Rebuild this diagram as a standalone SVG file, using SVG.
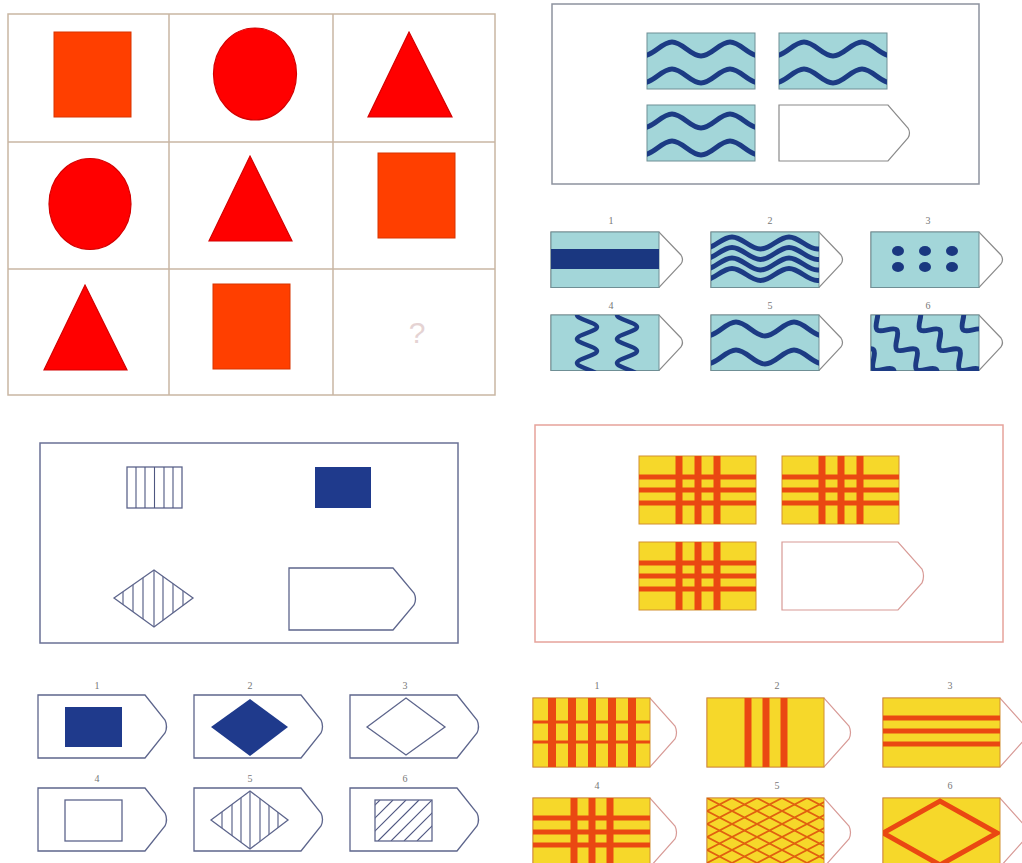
<svg xmlns="http://www.w3.org/2000/svg" width="1022" height="863" viewBox="0 0 1022 863">
<style>
.grid{fill:none;stroke:#c9b6a3;stroke-width:1.5}
.sq{fill:#ff3f00;stroke:#d83400;stroke-width:1}
.rd{fill:#ff0000;stroke:#d40000;stroke-width:1.2}
.cy{fill:#a3d6d9;stroke:#6f8f95;stroke-width:1}
.wv{fill:none;stroke:#1c3b84;stroke-width:5;stroke-linecap:round}
.pt2{fill:#fff;stroke:#8a8a8a;stroke-width:1.2}
.f2{fill:none;stroke:#8d929e;stroke-width:1.5}
.lb{font-family:"Liberation Serif",serif;font-size:10px;fill:#777;text-anchor:middle}
.f3{fill:none;stroke:#6a7095;stroke-width:1.5}
.o3{fill:#fff;stroke:#5d658c;stroke-width:1.3}
.o3n{fill:none;stroke:#5d658c;stroke-width:1.3}
.ln3{stroke:#4e5680;stroke-width:1.1}
.nv{fill:#1f3a8c}
.f4{fill:none;stroke:#e6a39b;stroke-width:1.5}
.o4{fill:#fff;stroke:#d89a96;stroke-width:1.2}
.yl{fill:#f6d82a;stroke:#d29030;stroke-width:1}
.rs{fill:#ea4812}
</style>
<defs>
<clipPath id="ct2"><rect x="0" y="0" width="108" height="56"/></clipPath>
<clipPath id="ct4"><rect x="0" y="0" width="117" height="69"/></clipPath>
<clipPath id="cd3"><polygon points="114,598 154,570 193,598 154,627"/></clipPath>
<clipPath id="cd5"><polygon points="211,820 250,791 288,820 250,849"/></clipPath>
<clipPath id="ch6"><rect x="375" y="800" width="57" height="41"/></clipPath>
<path id="wq" d="M-33,-7 C-22.6,-7 -14.4,7 -4,7 S14.6,-7 25,-7 S43.6,7 54,7 S72.6,-7 83,-7 S101.6,7 112,7 S130.6,-7 141,-7"/>
<path id="w2" d="M-36,-6 C-25.7,-6 -17.8,6 -7.5,6 S10.7,-6 21,-6 S39.2,6 49.5,6 S67.7,-6 78,-6 S96.2,6 106.5,6 S124.7,-6 135,-6"/>
<path id="zz" d="M10,-12 C10,-7.7 -10,-4.3 -10,0 S10,7.7 10,12 S-10,19.7 -10,24 S10,31.7 10,36 S-10,43.7 -10,48 S10,55.7 10,60 S-10,67.7 -10,72"/>
<path id="sg" d="M-84,-7 C-79,-7 -75,7 -70,7 S-61,-7 -56,-7 S-47,7 -42,7 S-33,-7 -28,-7 S-19,7 -14,7 S-5,-7 0,-7 S9,7 14,7 S23,-7 28,-7 S37,7 42,7 S51,-7 56,-7 S65,7 70,7 S79,-7 84,-7 S93,7 98,7 S107,-7 112,-7 S121,7 126,7 S135,-7 140,-7 S149,7 154,7 S163,-7 168,-7"/>
<path id="p2" d="M0,0 H108 L130,23 Q133,27.5 130,32 L108,55.5 H0 Z"/>
<path id="p3" d="M0,0 H107 L127,25 Q130,31.5 127,38 L107,63 H0 Z"/>
<path id="p3q" d="M0,0 H104 L125,25 Q128,31 125,37 L104,62 H0 Z"/>
<path id="p4" d="M0,0 H117 L142,28 Q145,34.5 142,41 L117,69 H0 Z"/>
<g id="qtile2">
<rect class="cy" x="0" y="0" width="108" height="56"/>
<g clip-path="url(#ct2)"><use href="#wq" class="wv" y="16"/><use href="#wq" class="wv" y="43"/></g>
</g>
<g id="plaid">
<rect class="yl" x="0" y="0" width="117" height="68"/>
<rect class="rs" x="0" y="18.5" width="117" height="5"/>
<rect class="rs" x="0" y="31.5" width="117" height="5"/>
<rect class="rs" x="0" y="44.5" width="117" height="5"/>
<rect class="rs" x="36.5" y="0" width="7" height="68"/>
<rect class="rs" x="55.5" y="0" width="7" height="68"/>
<rect class="rs" x="74.5" y="0" width="7" height="68"/>
</g>
<pattern id="lat" patternUnits="userSpaceOnUse" x="707" y="798" width="25" height="13">
<path d="M0,0 L25,13 M0,13 L25,0" stroke="#e0600f" stroke-width="1.8" fill="none"/>
</pattern>
</defs>

<g id="panel1">
<rect class="grid" x="8" y="14" width="487" height="381"/>
<line class="grid" x1="169" y1="14" x2="169" y2="395"/>
<line class="grid" x1="333" y1="14" x2="333" y2="395"/>
<line class="grid" x1="8" y1="142" x2="495" y2="142"/>
<line class="grid" x1="8" y1="269" x2="495" y2="269"/>
<rect class="sq" x="54" y="32" width="77" height="85"/>
<ellipse class="rd" cx="255" cy="74" rx="41.5" ry="46"/>
<polygon class="rd" points="409,32 452,117 368,117"/>
<ellipse class="rd" cx="90" cy="204" rx="41" ry="45.5"/>
<polygon class="rd" points="250,156 292,241 209,241"/>
<rect class="sq" x="378" y="153" width="77" height="85"/>
<polygon class="rd" points="85,285 127,370 44,370"/>
<rect class="sq" x="213" y="284" width="77" height="85"/>
<text x="417" y="343" font-family="Liberation Sans, sans-serif" font-size="30" fill="#e5d3d3" text-anchor="middle">?</text>
</g>

<g id="panel2">
<rect class="f2" x="552" y="4" width="427" height="180"/>
<use href="#qtile2" x="647" y="33"/>
<use href="#qtile2" x="779" y="33"/>
<use href="#qtile2" x="647" y="105"/>
<path class="pt2" d="M779,105 H888 L908,128 Q911,133 908,138 L888,161 H779 Z"/>
</g>

<g id="panel2-options">
<text class="lb" x="611" y="224">1</text>
<text class="lb" x="770" y="224">2</text>
<text class="lb" x="928" y="224">3</text>
<text class="lb" x="611" y="309">4</text>
<text class="lb" x="770" y="309">5</text>
<text class="lb" x="928" y="309">6</text>
<g id="o2-1" transform="translate(551,232)">
<use href="#p2" class="pt2"/>
<rect class="cy" width="108" height="55.5"/>
<rect x="0" y="17" width="108" height="20" fill="#1a3780"/>
</g>
<g id="o2-2" transform="translate(711,232)">
<use href="#p2" class="pt2"/>
<rect class="cy" width="108" height="55.5"/>
<g clip-path="url(#ct2)">
<use href="#w2" class="wv" y="11"/>
<use href="#w2" class="wv" y="21.5"/>
<use href="#w2" class="wv" y="32"/>
<use href="#w2" class="wv" y="42.5"/>
</g>
</g>
<g id="o2-3" transform="translate(871,232)">
<use href="#p2" class="pt2"/>
<rect class="cy" width="108" height="55.5"/>
<g fill="#1a3780">
<ellipse cx="27" cy="19" rx="6" ry="5"/><ellipse cx="54" cy="19" rx="6" ry="5"/><ellipse cx="81" cy="19" rx="6" ry="5"/>
<ellipse cx="27" cy="35" rx="6" ry="5"/><ellipse cx="54" cy="35" rx="6" ry="5"/><ellipse cx="81" cy="35" rx="6" ry="5"/>
</g>
</g>
<g id="o2-4" transform="translate(551,315)">
<use href="#p2" class="pt2"/>
<rect class="cy" width="108" height="55.5"/>
<g clip-path="url(#ct2)">
<use href="#zz" class="wv" style="stroke-width:4.5" x="36"/>
<use href="#zz" class="wv" style="stroke-width:4.5" x="76"/>
</g>
</g>
<g id="o2-5" transform="translate(711,315)">
<use href="#p2" class="pt2"/>
<rect class="cy" width="108" height="55.5"/>
<g clip-path="url(#ct2)">
<use href="#wq" class="wv" y="14"/>
<use href="#wq" class="wv" y="42"/>
</g>
</g>
<g id="o2-6" transform="translate(871,315)">
<use href="#p2" class="pt2"/>
<rect class="cy" width="108" height="55.5"/>
<g clip-path="url(#ct2)">
<use href="#sg" class="wv" transform="translate(-42,0) rotate(45)"/>
<use href="#sg" class="wv" transform="translate(1,0) rotate(45)"/>
<use href="#sg" class="wv" transform="translate(44,0) rotate(45)"/>
<use href="#sg" class="wv" transform="translate(87,0) rotate(45)"/>
</g>
</g>
</g>

<g id="panel3">
<rect class="f3" x="40" y="443" width="418" height="200"/>
<g id="q3-stripes">
<rect class="o3" x="127" y="467" width="55" height="41"/>
<g class="ln3">
<line x1="136" y1="467" x2="136" y2="508"/><line x1="145" y1="467" x2="145" y2="508"/>
<line x1="154.5" y1="467" x2="154.5" y2="508"/><line x1="164" y1="467" x2="164" y2="508"/>
<line x1="173" y1="467" x2="173" y2="508"/>
</g>
</g>
<rect id="q3-solid" class="nv" x="315" y="467" width="56" height="41"/>
<g id="q3-diamond">
<g class="ln3" clip-path="url(#cd3)">
<line x1="123" y1="560" x2="123" y2="640"/><line x1="133" y1="560" x2="133" y2="640"/>
<line x1="143" y1="560" x2="143" y2="640"/><line x1="154" y1="560" x2="154" y2="640"/>
<line x1="163" y1="560" x2="163" y2="640"/><line x1="173" y1="560" x2="173" y2="640"/>
<line x1="183" y1="560" x2="183" y2="640"/>
</g>
<polygon class="o3n" points="114,598 154,570 193,598 154,627"/>
</g>
<use id="q3-blank" href="#p3q" class="o3" x="289" y="568"/>
</g>

<g id="panel3-options">
<text class="lb" x="97" y="689">1</text>
<text class="lb" x="250" y="689">2</text>
<text class="lb" x="405" y="689">3</text>
<text class="lb" x="97" y="782">4</text>
<text class="lb" x="250" y="782">5</text>
<text class="lb" x="405" y="782">6</text>
<g id="o3-1"><use href="#p3" class="o3" x="38" y="695"/><rect class="nv" x="65" y="707" width="57" height="40"/></g>
<g id="o3-2"><use href="#p3" class="o3" x="194" y="695"/><polygon class="nv" points="211,727 250,699 288,727 250,756"/></g>
<g id="o3-3"><use href="#p3" class="o3" x="350" y="695"/><polygon class="o3n" points="367,727 406,698 445,727 406,755"/></g>
<g id="o3-4"><use href="#p3" class="o3" x="38" y="788"/><rect class="o3n" x="65" y="800" width="57" height="41"/></g>
<g id="o3-5"><use href="#p3" class="o3" x="194" y="788"/>
<g class="ln3" clip-path="url(#cd5)">
<line x1="222" y1="785" x2="222" y2="855"/><line x1="232" y1="785" x2="232" y2="855"/>
<line x1="241" y1="785" x2="241" y2="855"/><line x1="250" y1="785" x2="250" y2="855"/>
<line x1="260" y1="785" x2="260" y2="855"/><line x1="269" y1="785" x2="269" y2="855"/>
<line x1="278" y1="785" x2="278" y2="855"/>
</g>
<polygon class="o3n" points="211,820 250,791 288,820 250,849"/>
</g>
<g id="o3-6"><use href="#p3" class="o3" x="350" y="788"/>
<g class="ln3" clip-path="url(#ch6)">
<line x1="339" y1="841" x2="380" y2="800"/><line x1="352" y1="841" x2="393" y2="800"/>
<line x1="365" y1="841" x2="406" y2="800"/><line x1="378" y1="841" x2="419" y2="800"/>
<line x1="391" y1="841" x2="432" y2="800"/><line x1="404" y1="841" x2="445" y2="800"/>
<line x1="417" y1="841" x2="458" y2="800"/>
</g>
<rect class="o3n" x="375" y="800" width="57" height="41"/>
</g>
</g>

<g id="panel4">
<rect class="f4" x="535" y="425" width="468" height="217"/>
<use href="#plaid" x="639" y="456"/>
<use href="#plaid" x="782" y="456"/>
<use href="#plaid" x="639" y="542"/>
<path class="o4" d="M782,542 H898 L922,569 Q925,576 922,583 L898,610 H782 Z"/>
</g>

<g id="panel4-options">
<text class="lb" x="597" y="689">1</text>
<text class="lb" x="777" y="689">2</text>
<text class="lb" x="950" y="689">3</text>
<text class="lb" x="597" y="789">4</text>
<text class="lb" x="777" y="789">5</text>
<text class="lb" x="950" y="789">6</text>
<g id="o4-1" transform="translate(533,698)">
<use href="#p4" class="o4"/>
<rect class="yl" width="117" height="69"/>
<rect class="rs" x="0" y="22.5" width="117" height="3"/>
<rect class="rs" x="0" y="42.5" width="117" height="3"/>
<rect class="rs" x="15" y="0" width="8" height="69"/>
<rect class="rs" x="35" y="0" width="8" height="69"/>
<rect class="rs" x="55" y="0" width="8" height="69"/>
<rect class="rs" x="75" y="0" width="8" height="69"/>
<rect class="rs" x="95" y="0" width="8" height="69"/>
</g>
<g id="o4-2" transform="translate(707,698)">
<use href="#p4" class="o4"/>
<rect class="yl" width="117" height="69"/>
<rect class="rs" x="37.5" y="0" width="7" height="69"/>
<rect class="rs" x="55.5" y="0" width="7" height="69"/>
<rect class="rs" x="73.5" y="0" width="7" height="69"/>
</g>
<g id="o4-3" transform="translate(883,698)">
<use href="#p4" class="o4"/>
<rect class="yl" width="117" height="69"/>
<rect class="rs" x="0" y="17.5" width="117" height="5"/>
<rect class="rs" x="0" y="30.5" width="117" height="5"/>
<rect class="rs" x="0" y="43.5" width="117" height="5"/>
</g>
<g id="o4-4" transform="translate(533,798)">
<use href="#p4" class="o4"/>
<rect class="yl" width="117" height="69"/>
<rect class="rs" x="0" y="17.5" width="117" height="5"/>
<rect class="rs" x="0" y="31.5" width="117" height="5"/>
<rect class="rs" x="0" y="44.5" width="117" height="5"/>
<rect class="rs" x="37.5" y="0" width="7" height="69"/>
<rect class="rs" x="55.5" y="0" width="7" height="69"/>
<rect class="rs" x="73.5" y="0" width="7" height="69"/>
</g>
<g id="o4-5">
<use href="#p4" class="o4" x="707" y="798"/>
<rect class="yl" x="707" y="798" width="117" height="69"/>
<rect x="707" y="798" width="117" height="69" fill="url(#lat)"/>
</g>
<g id="o4-6" transform="translate(883,798)">
<use href="#p4" class="o4"/>
<rect class="yl" width="117" height="69"/>
<g clip-path="url(#ct4)">
<polygon points="0,35 57,3 114,35 57,67" fill="none" stroke="#ea4812" stroke-width="5"/>
</g>
</g>
</g>
</svg>
